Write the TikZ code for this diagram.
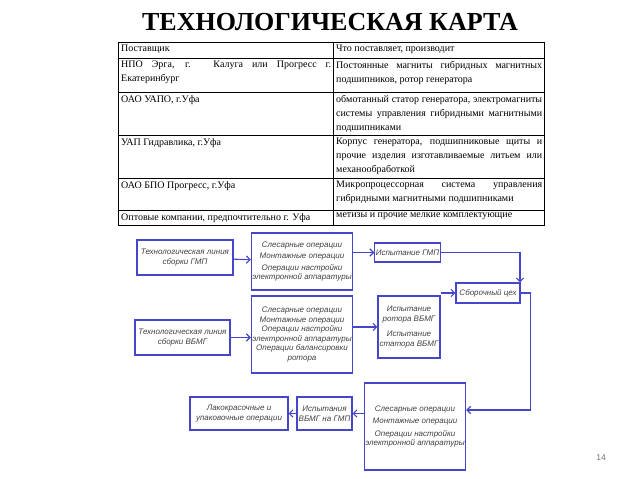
\documentclass[tikz,border=0pt]{standalone}
\usepackage{fontspec}
\setmainfont{Liberation Serif}
\newfontfamily\diagfont{Liberation Sans}
\usetikzlibrary{arrows.meta}
\definecolor{lineblue}{RGB}{70,70,200}
\begin{document}
\begin{tikzpicture}[x=1pt, y=-1pt, >=Straight Barb]
        % Styles
        \tikzset{
          opbox/.style={draw=lineblue, line width=1.1pt, align=center, inner sep=1pt,
            font=\diagfont\itshape\fontsize{8}{9.6}\selectfont, text=black!75},
          cell/.style={anchor=north west, inner xsep=2pt, inner ysep=3pt, font=\fontsize{10}{14}\selectfont},
          flow/.style={->, line width=1.1pt, lineblue}
        }
        \useasboundingbox (0,0) rectangle (638,479);

        % Title
        \node (title) at (330,22) {\bfseries\fontsize{26}{28}\selectfont ТЕХНОЛОГИЧЕСКАЯ КАРТА};

        % Table
        \draw[thin] (118,42) rectangle (544,225);
        \draw[thin] (333,42) -- (333,225);
        \foreach \yy in {58,92,135,178,210} \draw[thin] (118,\yy) -- (544,\yy);
        \node[cell] (h1) at (119,42) {Поставщик};
        \node[cell] (h2) at (334,42) {Что поставляет, производит};
        \node[cell, text width=210pt, align=justify] (r1a) at (119,58) {НПО Эрга, г. Калуга или Прогресс г. Екатеринбург};
        \node[cell, text width=206pt, align=justify] (r1b) at (334,58) {Постоянные магниты гибридных магнитных подшипников, ротор генератора};
        \node[cell] (r2a) at (119,92) {ОАО УАПО, г.Уфа};
        \node[cell, text width=206pt, align=justify] (r2b) at (334,92) {обмотанный статор генератора, электромагниты системы управления гибридными магнитными подшипниками};
        \node[cell] (r3a) at (119,135) {УАП Гидравлика, г.Уфа};
        \node[cell, text width=206pt, align=justify] (r3b) at (334,135) {Корпус генератора, подшипниковые щиты и прочие изделия изготавливаемые литьем или механообработкой};
        \node[cell] (r4a) at (119,178) {ОАО БПО Прогресс, г.Уфа};
        \node[cell, text width=206pt, align=justify] (r4b) at (334,178) {Микропроцессорная система управления гибридными магнитными подшипниками};
        \node[cell] (r5a) at (119,210) {Оптовые компании, предпочтительно г. Уфа};
        \node[cell] (r5b) at (334,210) {метизы и прочие мелкие комплектующие};

        % Diagram boxes
        \node[opbox, minimum width=96pt, minimum height=35pt] (gmpline) at (185,257.5) {Технологическая линия\\сборки ГМП};
        \node[opbox, minimum width=100pt, minimum height=57pt] (gmpops) at (302,261.5) {Слесарные операции\\[2pt]Монтажные операции\\[2pt]Операции настройки\\электронной аппаратуры};
        \node[opbox, minimum width=65pt, minimum height=19pt] (gmptest) at (407.5,252.5) {Испытание ГМП};
        \node[opbox, minimum width=64pt, minimum height=20pt] (shop) at (488,293) {Сборочный цех};
        \node[opbox, minimum width=95pt, minimum height=35pt] (vbline) at (182.5,337.5) {Технологическая линия\\сборки ВБМГ};
        \node[opbox, minimum width=100pt, minimum height=77pt] (vbops) at (302,334.5) {Слесарные операции\\Монтажные операции\\Операции настройки\\электронной аппаратуры\\Операции балансировки\\ротора};
        \node[opbox, minimum width=62pt, minimum height=62pt] (vbtest) at (409,327) {Испытание\\ротора ВБМГ\\[6pt]Испытание\\статора ВБМГ};
        \node[opbox, minimum width=100pt, minimum height=87pt] (finops) at (415,426.5) {Слесарные операции\\[3pt]Монтажные операции\\[3pt]Операции настройки\\электронной аппаратуры};
        \node[opbox, minimum width=55pt, minimum height=33pt] (fintest) at (324.5,413.5) {Испытания\\ВБМГ на ГМП};
        \node[opbox, minimum width=98pt, minimum height=33pt] (paint) at (239,413.5) {Лакокрасочные и\\упаковочные операции};

        % Connectors
        \draw[flow] (gmpline) -- (gmpops);
        \draw[flow] (gmpops.east |- gmptest) -- (gmptest);
        \draw[flow] (gmptest.east) -| (shop.north -| 520,0);
        \draw[flow] (vbline) -- (vbline -| vbops.west);
        \draw[flow] (vbops.east |- vbtest) -- (vbtest);
        \draw[flow] (vbtest.east |- shop) -- (shop);
        \draw[flow] (shop.east) -- ++(10,0) |- (finops.east |- 0,410);
        \draw[flow] (finops.west |- fintest) -- (fintest);
        \draw[flow] (fintest) -- (paint);

        % Page number
        \node[text=black!55, font=\diagfont\fontsize{8.5}{9}\selectfont] (page) at (601,458) {14};
\end{tikzpicture}
\end{document}
